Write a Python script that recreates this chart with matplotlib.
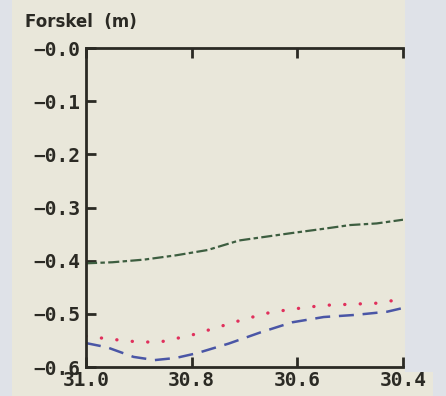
import matplotlib.pyplot as plt
from matplotlib.patches import Rectangle

# data
x_green = [31.0, 30.95, 30.89, 30.83, 30.77, 30.71, 30.66, 30.61, 30.55, 30.50, 30.45, 30.40]
y_green = [-0.405, -0.403, -0.398, -0.390, -0.380, -0.362, -0.355, -0.348, -0.340, -0.333, -0.330, -0.323]

x_red = [31.0, 30.95, 30.90, 30.86, 30.80, 30.75, 30.70, 30.65, 30.60, 30.55, 30.50, 30.45, 30.40]
y_red = [-0.542, -0.548, -0.553, -0.553, -0.540, -0.525, -0.510, -0.497, -0.490, -0.484, -0.482, -0.480, -0.472]

x_blue = [31.0, 30.96, 30.91, 30.87, 30.83, 30.79, 30.73, 30.67, 30.61, 30.55, 30.49, 30.43, 30.40]
y_blue = [-0.555, -0.563, -0.581, -0.587, -0.583, -0.574, -0.556, -0.535, -0.516, -0.506, -0.502, -0.496, -0.489]

x_ticks = [31.0, 30.8, 30.6, 30.4]
y_ticks = [-0.0, -0.1, -0.2, -0.3, -0.4, -0.5, -0.6]

ink = '#2b2a24'
fig = plt.figure(figsize=(4.46, 3.96), dpi=100, facecolor='#dfe2e8')

# paper of the scan
fig.patches.append(Rectangle((12/446, 0), (405-12)/446, 1, transform=fig.transFigure,
                             facecolor='#e9e7da', edgecolor='none', zorder=-10))
fig.patches.append(Rectangle((405/446, 0), 28/446, 24/396, transform=fig.transFigure,
                             facecolor='#e9e7da', edgecolor='none', zorder=-10))

ax = fig.add_axes([86/446, 29/396, 317/446, 319/396])
ax.set_facecolor('none')

ax.plot(x_green, y_green, color='#3d5e40', lw=1.6, dashes=(5, 1.5, 2, 1.5))
ax.plot(x_red, y_red, color='#e0305c', lw=2.4, dashes=(0.05, 4.6), dash_capstyle='round')
ax.plot(x_blue, y_blue, color='#4a56a6', lw=1.8, dashes=(6, 3.5))

ax.set_xlim(31.0, 30.4)
ax.set_ylim(-0.6, 0.0)

for s in ['left', 'top', 'bottom']:
    ax.spines[s].set_linewidth(2.0)
    ax.spines[s].set_color(ink)
ax.spines['right'].set_visible(False)

mono = {'family': 'DejaVu Sans Mono', 'weight': 'bold', 'size': 14}
ax.set_xticks(x_ticks)
ax.set_xticklabels(['%.1f' % v for v in x_ticks], fontdict=mono, color=ink)
ax.set_yticks(y_ticks)
ax.set_yticklabels(['\u22120.%d' % round(abs(v) * 10) for v in y_ticks], fontdict=mono, color=ink)
ax.tick_params(axis='x', direction='in', top=True, length=7, width=2, color=ink, pad=3)
ax.tick_params(axis='y', direction='in', length=7, width=2, color=ink, pad=4)

fig.text(25/446, 1 - 22/396, 'Forskel  (m)', fontsize=12, fontweight='bold',
         color=ink, va='center', ha='left')

fig.savefig('out.png', dpi=100, facecolor=fig.get_facecolor())
